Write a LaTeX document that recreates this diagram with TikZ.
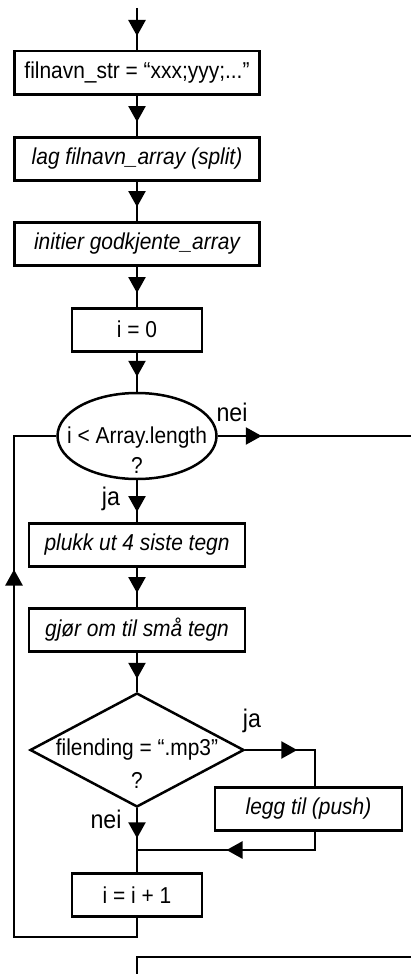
\documentclass[tikz,border=0pt]{standalone}
\usepackage{fontspec}
\setmainfont{Liberation Sans}[FakeStretch=0.91]
\usetikzlibrary{shapes.geometric,arrows.meta,decorations.markings}
\tikzset{
  box/.style={draw, line width=2.5pt, rectangle, minimum height=43pt, inner sep=0pt, anchor=north},
  wbox/.style={box, minimum width=245pt},
  mbox/.style={box, minimum width=216pt},
  sbox/.style={box, minimum width=130pt},
  conn/.style={line width=2.5pt},
  arrowat/.style={postaction={decorate}, decoration={markings, mark=at position #1 with {\arrow{Triangle[length=16pt 0,width=17pt 0]}}}},
  lbl/.style={anchor=base, inner sep=0pt},
  branch/.style={lbl, font=\fontsize{25.5}{30}\selectfont},
}
\begin{document}
\begin{tikzpicture}[x=1pt, y=-1pt, font=\fontsize{23}{30}\selectfont]
\useasboundingbox (0,0) rectangle (411,974);
% nodes
\coordinate (start) at (137,8);
\node[wbox] (b1) at (137,50) {filnavn\_str = “xxx;yyy;...”};
\node[wbox] (b2) at (137,136) {\itshape lag filnavn\_array (split)};
\node[wbox] (b3) at (137,221) {\itshape initier godkjente\_array};
\node[sbox] (b4) at (137,307) {i = 0};
\node[draw, line width=2.5pt, ellipse, minimum width=159pt, minimum height=86pt, inner sep=0pt] (e) at (137,436) {};
\node[lbl] (et1) at (137,443) {i < Array.length};
\node[lbl] (et2) at (137,473) {?};
\node[mbox] (b5) at (137,522) {\itshape plukk ut 4 siste tegn};
\node[mbox] (b6) at (137,607) {\itshape gjør om til små tegn};
\node[draw, line width=2.5pt, diamond, minimum width=214pt, minimum height=114pt, inner sep=0pt] (d) at (137,750) {};
\node[lbl] (dt1) at (137,755) {filending = “.mp3”};
\node[lbl] (dt2) at (137,788) {?};
\node[box, minimum width=187pt] (b7) at (308.5,786) {\itshape legg til (push)};
\coordinate (j) at (137,850);
\node[sbox] (b8) at (137,872) {i = i + 1};
\coordinate (rend) at (415,436);
\coordinate (lb) at (14,937);
\coordinate (lt) at (14,436);
\coordinate (nb1) at (137,980);
\coordinate (nb2) at (137,957);
\coordinate (nb3) at (415,957);
% labels
\node[branch] (nei1) at (232,421) {nei};
\node[branch] (ja1) at (111,505) {ja};
\node[branch] (ja2) at (252,727) {ja};
\node[branch] (nei2) at (106,828) {nei};
% connectors
\draw[conn, arrowat=-14pt] (start) -- (b1.north);
\draw[conn, arrowat=-14pt] (b1.south) -- (b2.north);
\draw[conn, arrowat=-14pt] (b2.south) -- (b3.north);
\draw[conn, arrowat=-14pt] (b3.south) -- (b4.north);
\draw[conn, arrowat=-15pt] (b4.south) -- (e.north);
\draw[conn, arrowat=44pt] (e.east) -- (rend);
\draw[conn, arrowat=-10pt] (e.south) -- (b5.north);
\draw[conn, arrowat=-14pt] (b5.south) -- (b6.north);
\draw[conn, arrowat=-13pt] (b6.south) -- (d.north);
\draw[conn, arrowat=52pt] (d.east) -| ([xshift=6.5pt]b7.north);
\draw[conn, arrowat=107pt] ([xshift=6.5pt]b7.south) |- (j);
\draw[conn, arrowat=30pt] (d.south) -- (b8.north);
\draw[conn, arrowat=510pt] (b8.south) |- (lb) -- (lt) -- (e.west);
\draw[conn] (nb1) -- (nb2) -- (nb3);
\end{tikzpicture}
\end{document}
